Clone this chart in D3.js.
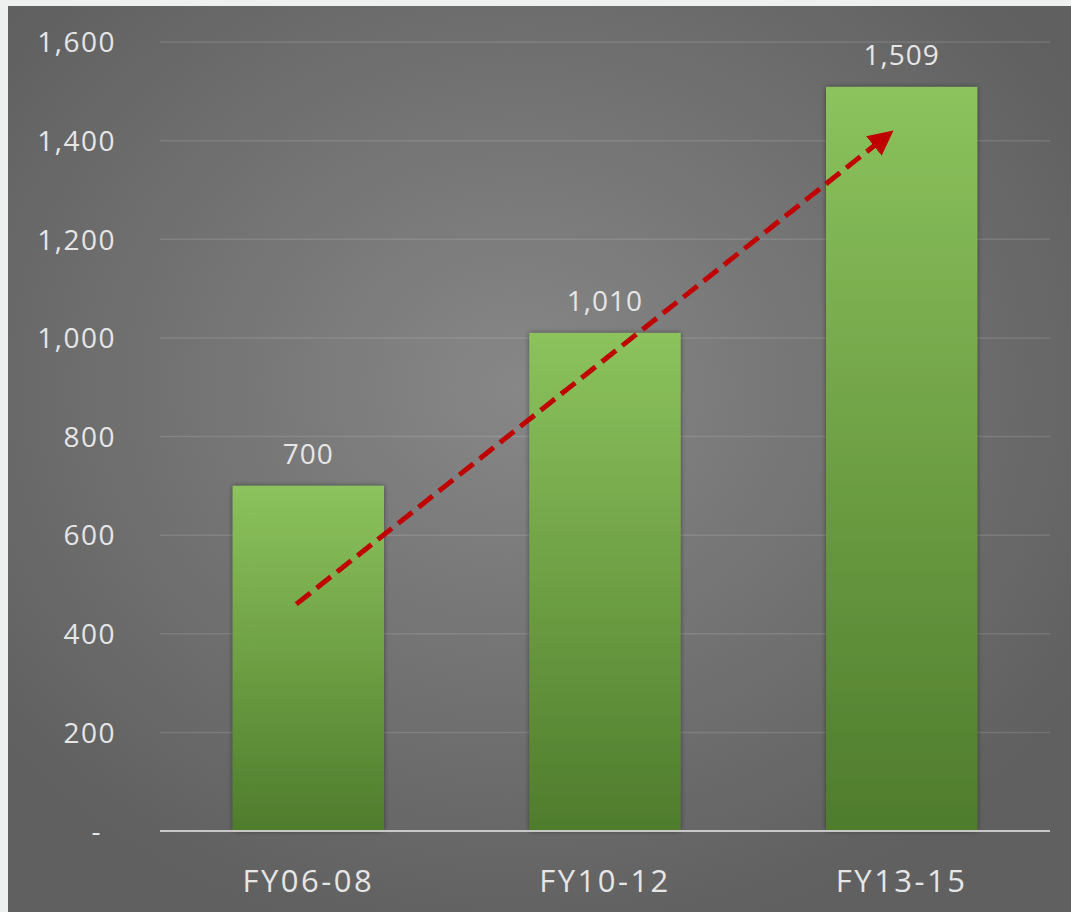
<!DOCTYPE html>
<html lang="en">
<head>
<meta charset="utf-8">
<title>FY bar chart</title>
<script src="https://d3js.org/d3.v7.min.js"></script>
<style>
  html, body { margin: 0; padding: 0; background: #eef0f0; }
  svg text { font-family: "Open Sans", "Noto Sans", sans-serif; }
</style>
</head>
<body>
<div id="chart"></div>
<script>
// data
var categories = ["FY06-08", "FY10-12", "FY13-15"];
var values = [700, 1010, 1509];
var yTicks = [0, 200, 400, 600, 800, 1000, 1200, 1400, 1600];
var trendFrom = { cat: 0, value: 460 };
var trendTo = { cat: 2, value: 1405 };

var width = 1071, height = 912;
var margin = { top: 42, right: 21, bottom: 81, left: 160 };
var textColor = "#e6e6e6";

var svg = d3.select("#chart").append("svg")
    .attr("width", width)
    .attr("height", height);

var defs = svg.append("defs");

var bg = defs.append("radialGradient")
    .attr("id", "bg")
    .attr("cx", "0.48").attr("cy", "0.42").attr("r", "0.62");
bg.append("stop").attr("offset", "0%").attr("stop-color", "#878787");
bg.append("stop").attr("offset", "100%").attr("stop-color", "#606060");

var barGrad = defs.append("linearGradient")
    .attr("id", "barGrad")
    .attr("x1", 0).attr("y1", 0).attr("x2", 0).attr("y2", 1);
barGrad.append("stop").attr("offset", "0%").attr("stop-color", "#8cc35d");
barGrad.append("stop").attr("offset", "100%").attr("stop-color", "#4f7c2c");

var shadow = defs.append("filter")
    .attr("id", "shadow")
    .attr("x", "-10%").attr("y", "-10%").attr("width", "120%").attr("height", "120%");
shadow.append("feDropShadow")
    .attr("dx", 0).attr("dy", 0).attr("stdDeviation", 2.5)
    .attr("flood-color", "#000").attr("flood-opacity", 0.45);

defs.append("marker")
    .attr("id", "arrow")
    .attr("viewBox", "0 0 10 10")
    .attr("refX", 5).attr("refY", 5)
    .attr("markerWidth", 5).attr("markerHeight", 5)
    .attr("orient", "auto")
    .attr("markerUnits", "strokeWidth")
  .append("path")
    .attr("d", "M0,0 L10,5 L0,10 Z")
    .attr("fill", "#c00000");

// background panel
svg.append("rect")
    .attr("x", 8).attr("y", 6)
    .attr("width", width - 8).attr("height", height - 6)
    .attr("fill", "url(#bg)");

var x = d3.scaleBand()
    .domain(categories)
    .range([margin.left, width - margin.right])
    .paddingInner(0.49)
    .paddingOuter(0.245);

var y = d3.scaleLinear()
    .domain([0, 1600])
    .range([height - margin.bottom, margin.top]);

// gridlines
svg.append("g")
  .selectAll("line")
  .data(yTicks.slice(1))
  .join("line")
    .attr("x1", margin.left)
    .attr("x2", width - margin.right)
    .attr("y1", function(d) { return y(d); })
    .attr("y2", function(d) { return y(d); })
    .attr("stroke", "#ffffff")
    .attr("stroke-opacity", 0.12)
    .attr("stroke-width", 1.5);

// y axis labels
var yAxis = d3.axisLeft(y)
    .tickValues(yTicks)
    .tickSize(0)
    .tickPadding(0)
    .tickFormat(function(d) { return d === 0 ? "-" : d3.format(",")(d); });

var gy = svg.append("g")
    .attr("transform", "translate(116,0)")
    .call(yAxis)
    .attr("font-family", null);
gy.select(".domain").remove();
gy.selectAll("text")
    .attr("fill", textColor)
    .attr("font-size", 28)
    .attr("letter-spacing", 1.5)
    .attr("dy", "0.35em")
    .attr("dx", function(d) { return d === 0 ? -14 : 0; });

// bars
svg.append("g")
  .selectAll("rect")
  .data(values)
  .join("rect")
    .attr("x", function(d, i) { return x(categories[i]); })
    .attr("y", function(d) { return y(d); })
    .attr("width", x.bandwidth())
    .attr("height", function(d) { return y(0) - y(d); })
    .attr("fill", "url(#barGrad)")
    .attr("filter", "url(#shadow)");

// value labels
svg.append("g")
  .selectAll("text")
  .data(values)
  .join("text")
    .attr("x", function(d, i) { return x(categories[i]) + x.bandwidth() / 2; })
    .attr("y", function(d) { return y(d) - 22; })
    .attr("text-anchor", "middle")
    .attr("fill", textColor)
    .attr("font-size", 28)
    .attr("letter-spacing", 1)
    .text(function(d) { return d3.format(",")(d); });

// baseline
svg.append("line")
    .attr("x1", margin.left)
    .attr("x2", width - margin.right)
    .attr("y1", y(0))
    .attr("y2", y(0))
    .attr("stroke", "#c8c8c8")
    .attr("stroke-width", 2);

// x axis labels
var xAxis = d3.axisBottom(x).tickSize(0).tickPadding(0);
var gx = svg.append("g")
    .attr("transform", "translate(0," + (y(0) + 50) + ")")
    .call(xAxis)
    .attr("font-family", null);
gx.select(".domain").remove();
gx.selectAll("text")
    .attr("fill", textColor)
    .attr("font-size", 31)
    .attr("letter-spacing", 2.5)
    .attr("dy", "0.35em");

// trend arrow
var half = x.bandwidth() / 2;
svg.append("line")
    .attr("x1", x(categories[trendFrom.cat]) + half - 12)
    .attr("y1", y(trendFrom.value))
    .attr("x2", x(categories[trendTo.cat]) + half - 18)
    .attr("y2", y(trendTo.value))
    .attr("stroke", "#c00000")
    .attr("stroke-width", 5)
    .attr("stroke-dasharray", "18,8")
    .attr("marker-end", "url(#arrow)");
</script>
</body>
</html>
